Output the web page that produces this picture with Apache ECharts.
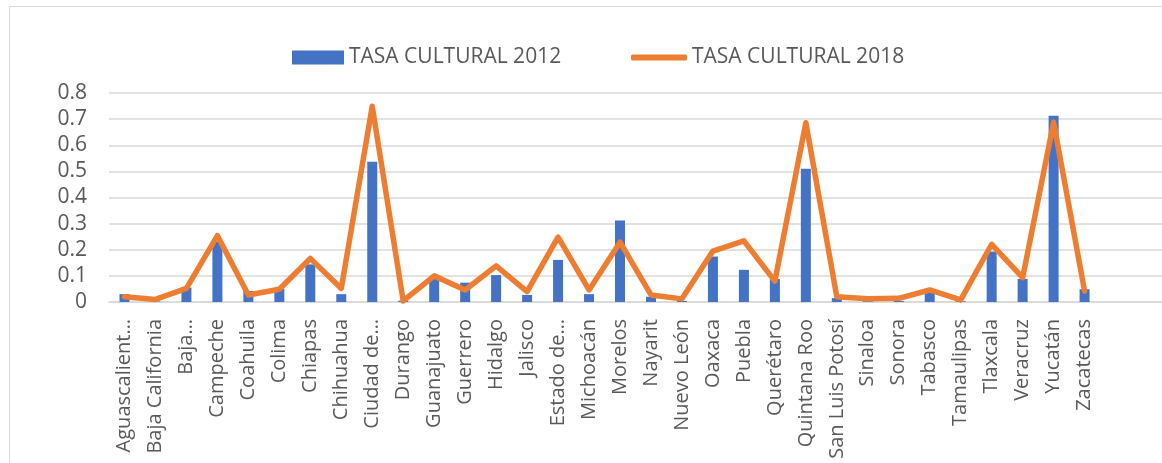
<!DOCTYPE html>
<html>
<head>
<meta charset="utf-8">
<script src="https://cdn.jsdelivr.net/npm/echarts@6/dist/echarts.min.js"></script>
<style>
html,body{margin:0;padding:0;background:#fff;}
#c{width:1162px;height:463px;}
</style>
</head>
<body>
<div id="c"></div>
<script>
const categories = ["Aguascalient…","Baja California","Baja…","Campeche","Coahuila","Colima","Chiapas","Chihuahua","Ciudad de…","Durango","Guanajuato","Guerrero","Hidalgo","Jalisco","Estado de…","Michoacán","Morelos","Nayarit","Nuevo León","Oaxaca","Puebla","Querétaro","Quintana Roo","San Luis Potosí","Sinaloa","Sonora","Tabasco","Tamaulipas","Tlaxcala","Veracruz","Yucatán","Zacatecas","",""];
const tasa2012 = [0.03,0.002,0.055,0.23,0.042,0.05,0.144,0.03,0.537,0.005,0.09,0.074,0.103,0.027,0.161,0.03,0.312,0.02,0.004,0.174,0.123,0.088,0.51,0.015,0.003,0.004,0.04,0.003,0.193,0.088,0.713,0.049,null,null];
const tasa2018 = [0.02,0.01,0.052,0.254,0.027,0.049,0.167,0.052,0.749,0.004,0.1,0.046,0.138,0.04,0.248,0.046,0.229,0.027,0.012,0.195,0.234,0.08,0.686,0.02,0.012,0.014,0.046,0.008,0.221,0.093,0.688,0.042,null,null];
const yTicks = [0,0.1,0.2,0.3,0.4,0.5,0.6,0.7,0.8];

const chart = echarts.init(document.getElementById('c'));
const txt = '#595959';
const font = 'Open Sans';
chart.setOption({
  animation:false,
  graphic:[{type:'rect',shape:{x:9.5,y:6.5,width:1200,height:500},style:{fill:null,stroke:'#d9d9d9',lineWidth:1}}],
  legend:[
    {data:[{name:'TASA CULTURAL 2012',icon:'rect'}],left:292,top:47,padding:0,itemWidth:52,itemHeight:14,itemGap:0,
     textStyle:{color:txt,fontSize:21,fontFamily:font}},
    {data:[{name:'TASA CULTURAL 2018',icon:'roundRect'}],left:631,top:47,padding:0,itemWidth:56,itemHeight:6,itemGap:0,
     textStyle:{color:txt,fontSize:21,fontFamily:font}}
  ],
  grid:{left:109,right:0,top:93,bottom:161,containLabel:false},
  xAxis:{type:'category',data:categories,
    axisLine:{lineStyle:{color:'#d9d9d9',width:1.5}},axisTick:{show:false},
    axisLabel:{rotate:90,interval:0,fontSize:20,fontFamily:font,color:txt,margin:17}},
  yAxis:{type:'value',min:0,max:0.8,interval:0.1,
    axisLine:{show:false},axisTick:{show:false},
    splitLine:{lineStyle:{color:'#d9d9d9',width:1.5}},
    axisLabel:{fontSize:21,fontFamily:font,color:txt,margin:22,
      formatter:v=>{const t=yTicks.find(x=>Math.abs(x-v)<1e-9);return t===0?'0':String(t);}}},
  series:[
    {name:'TASA CULTURAL 2012',type:'bar',data:tasa2012,barWidth:10,itemStyle:{color:'#4472C4'}},
    {name:'TASA CULTURAL 2018',type:'line',data:tasa2018,showSymbol:false,symbol:'none',
     lineStyle:{color:'#ED7D31',width:5.5,join:'round',cap:'round'},itemStyle:{color:'#ED7D31'}}
  ]
});
</script>
</body>
</html>
